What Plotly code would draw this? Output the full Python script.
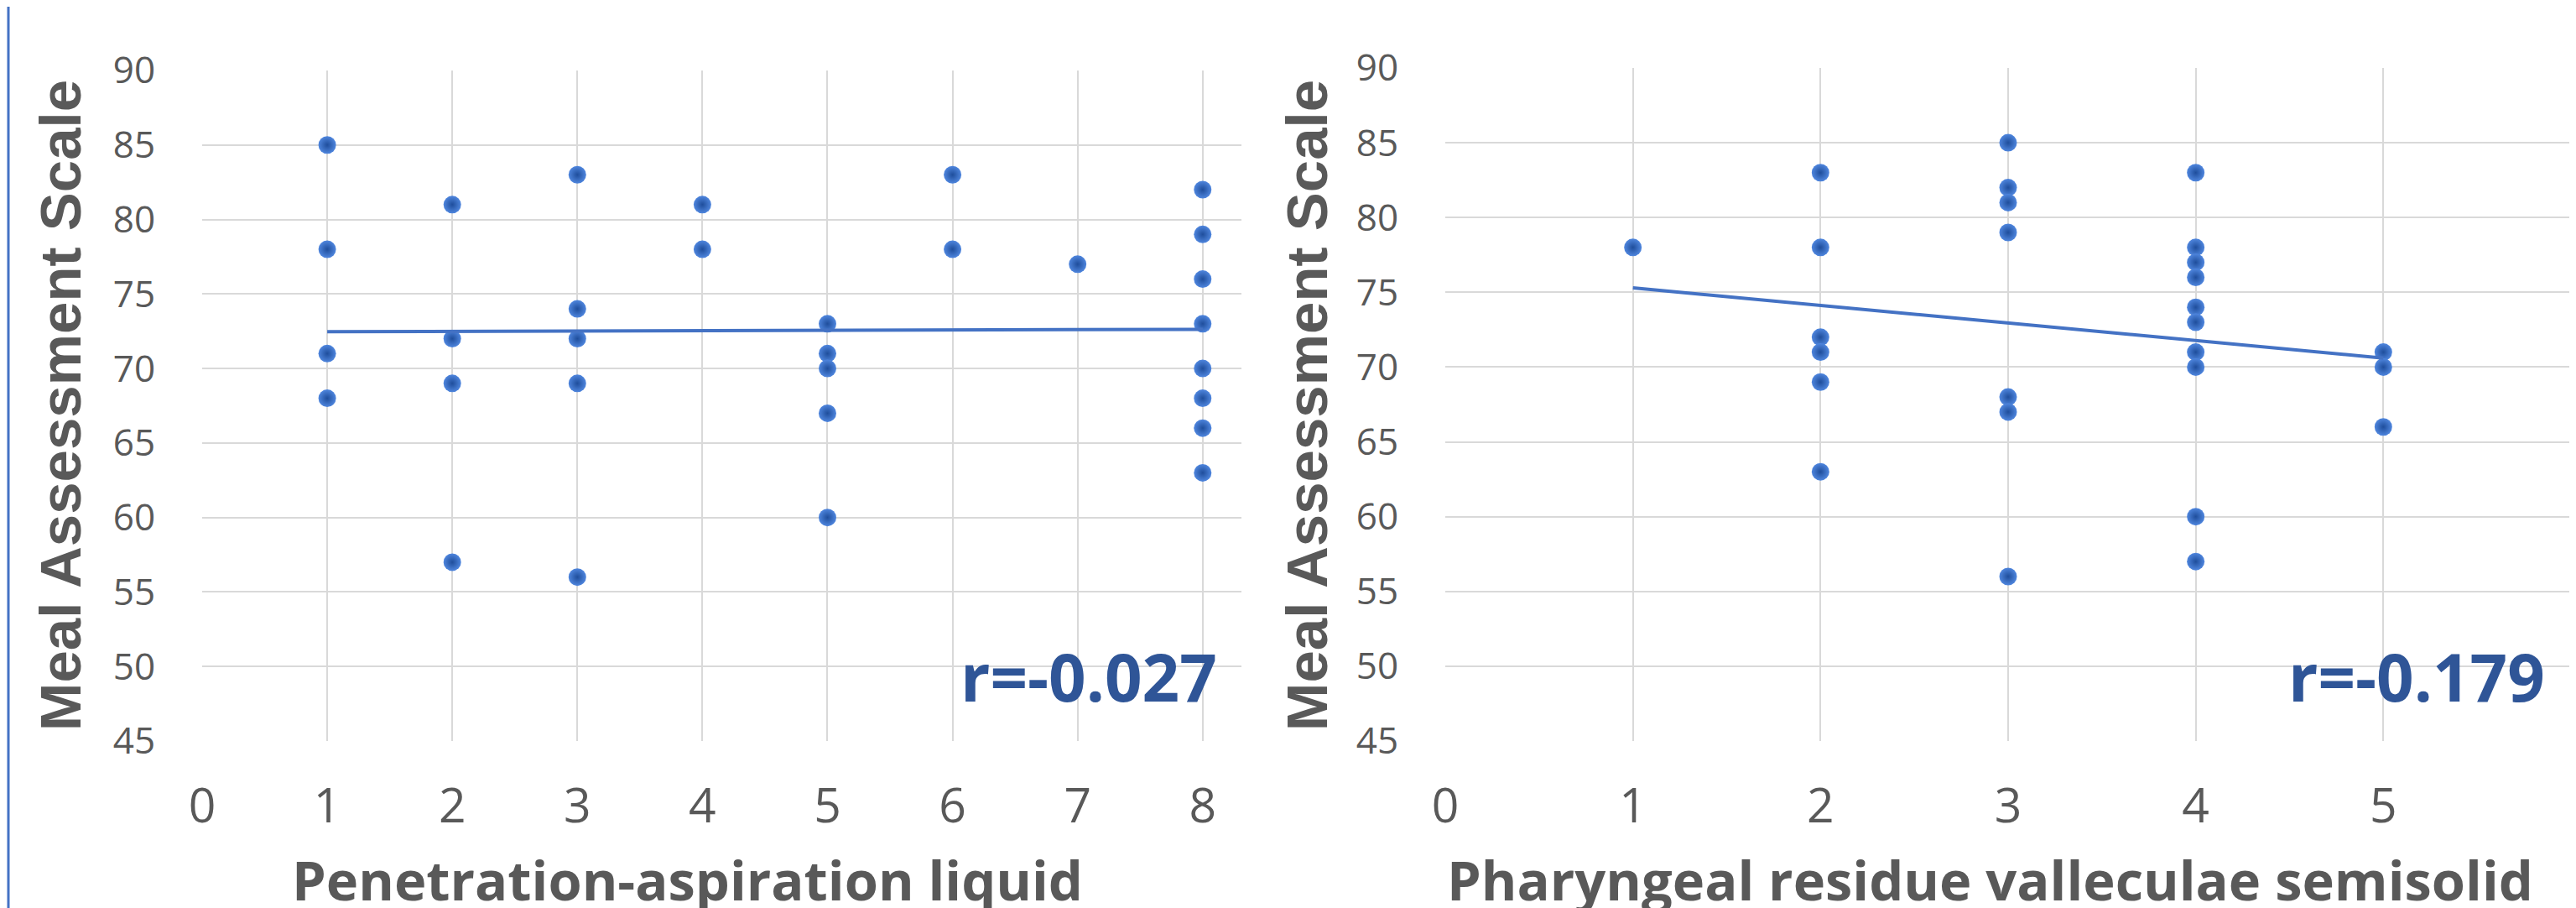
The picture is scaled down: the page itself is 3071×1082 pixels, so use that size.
import plotly.graph_objects as go

# ---------------- data ----------------
left_x = [1, 1, 1, 1,
          2, 2, 2, 2,
          3, 3, 3, 3, 3,
          4, 4,
          5, 5, 5, 5, 5,
          6, 6,
          7,
          8, 8, 8, 8, 8, 8, 8, 8]
left_y = [85, 78, 71, 68,
          81, 72, 69, 57,
          83, 74, 72, 69, 56,
          81, 78,
          73, 71, 70, 67, 60,
          83, 78,
          77,
          82, 79, 76, 73, 70, 68, 66, 63]
left_trend_x = [1, 8]
left_trend_y = [72.47, 72.63]
left_r = "r=-0.027"
left_xtitle = "Penetration-aspiration liquid"
left_xticks = [0, 1, 2, 3, 4, 5, 6, 7, 8]

right_x = [1,
           2, 2, 2, 2, 2, 2,
           3, 3, 3, 3, 3, 3, 3,
           4, 4, 4, 4, 4, 4, 4, 4, 4, 4,
           5, 5, 5]
right_y = [78,
           83, 78, 72, 71, 69, 63,
           85, 82, 81, 79, 68, 67, 56,
           83, 78, 77, 76, 74, 73, 71, 70, 60, 57,
           71, 70, 66]
right_trend_x = [1, 5]
right_trend_y = [75.3, 70.6]
right_r = "r=-0.179"
right_xtitle = "Pharyngeal residue valleculae semisolid"
right_xticks = [0, 1, 2, 3, 4, 5, 6]
right_xticktext = ["0", "1", "2", "3", "4", "5", ""]

y_title = "Meal Assessment Scale"
y_ticks = [45, 50, 55, 60, 65, 70, 75, 80, 85, 90]

# ---------------- style ----------------
W, H = 3071, 1082
BLUE = "#4472C4"
DOT = "#4F86DE"
DOT_EDGE = "#1F4E9C"
RBLUE = "#2F5597"
GRAY = "#595959"
GRID = "#D9D9D9"

fig = go.Figure()

marker = dict(size=21, color=DOT, line=dict(width=0),
              gradient=dict(type="radial", color=DOT_EDGE))

fig.add_trace(go.Scatter(x=left_x, y=left_y, mode="markers", marker=marker,
                         xaxis="x", yaxis="y", showlegend=False))
fig.add_trace(go.Scatter(x=left_trend_x, y=left_trend_y, mode="lines",
                         line=dict(color=BLUE, width=4),
                         xaxis="x", yaxis="y", showlegend=False))
fig.add_trace(go.Scatter(x=right_x, y=right_y, mode="markers", marker=marker,
                         xaxis="x2", yaxis="y2", showlegend=False))
fig.add_trace(go.Scatter(x=right_trend_x, y=right_trend_y, mode="lines",
                         line=dict(color=BLUE, width=4),
                         xaxis="x2", yaxis="y2", showlegend=False))

def px_x(p):
    return p / W

def px_y(p):
    return 1 - p / H

tickfont_y = dict(family="Open Sans", size=44, color=GRAY)
tickfont_x = dict(family="Open Sans", size=57, color=GRAY)

xcommon = dict(showgrid=True, gridcolor=GRID, gridwidth=2, zeroline=False,
               showline=False, ticks="outside", tickcolor="rgba(0,0,0,0)",
               ticklen=28, tickfont=tickfont_x, fixedrange=True, automargin=False)
ycommon = dict(showgrid=True, gridcolor=GRID, gridwidth=2, zeroline=False,
               showline=False, ticks="outside", tickcolor="rgba(0,0,0,0)",
               ticklen=46, tickfont=tickfont_y, tickvals=y_ticks,
               range=[45, 90], fixedrange=True, automargin=False)

fig.update_layout(
    width=W, height=H,
    margin=dict(l=0, r=0, t=0, b=0, autoexpand=False),
    paper_bgcolor="white", plot_bgcolor="white",
    xaxis=dict(domain=[px_x(233), px_x(1472)], range=[0, 8.31],
               tickvals=left_xticks, anchor="y", **xcommon),
    yaxis=dict(domain=[px_y(875), px_y(76)], anchor="x", **ycommon),
    xaxis2=dict(domain=[px_x(1715), px_x(3057)], range=[0, 6],
                tickvals=right_xticks, ticktext=right_xticktext,
                anchor="y2", **xcommon),
    yaxis2=dict(domain=[px_y(875), px_y(73)], anchor="x2", **ycommon),
)

ann = []
# y titles
for xc in (64, 1550):
    ann.append(dict(text=y_title, textangle=-90, x=px_x(xc), y=px_y(475),
                    xref="paper", yref="paper", xanchor="center", yanchor="middle",
                    showarrow=False,
                    font=dict(family="Liberation Sans", size=69, color=GRAY,
                              weight="bold")))
# x titles
for txt, xc in ((left_xtitle, 811.5), (right_xtitle, 2364)):
    ann.append(dict(text=txt, x=px_x(xc), y=px_y(1040),
                    xref="paper", yref="paper", xanchor="center", yanchor="middle",
                    showarrow=False,
                    font=dict(family="Open Sans", size=65, color=GRAY, weight="bold")))
# r labels
for txt, xr in ((left_r, 1445), (right_r, 3028)):
    ann.append(dict(text=txt, x=px_x(xr), y=px_y(798),
                    xref="paper", yref="paper", xanchor="right", yanchor="middle",
                    showarrow=False,
                    font=dict(family="Open Sans", size=78, color=RBLUE, weight="bold")))
fig.update_layout(annotations=ann)

# thin blue frame line at the far left edge of the picture
fig.add_shape(type="line", xref="paper", yref="paper", x0=px_x(2), x1=px_x(2),
              y0=0, y1=1, line=dict(color=BLUE, width=3))

fig.write_html("out.html")
